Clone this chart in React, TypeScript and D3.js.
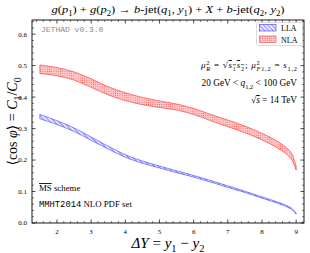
import React from "react";
import * as d3 from "d3";

const dY = [1.5, 2, 2.5, 3, 3.5, 4, 4.5, 5, 5.5, 6, 6.5, 7, 7.5, 8, 8.5, 8.75, 8.9, 9.0];
const nlaHigh = [0.502, 0.494, 0.48, 0.458, 0.433, 0.414, 0.399, 0.388, 0.378, 0.364, 0.345, 0.327, 0.308, 0.285, 0.256, 0.236, 0.214, 0.18];
const nlaLow = [0.475, 0.468, 0.454, 0.431, 0.407, 0.389, 0.376, 0.367, 0.359, 0.345, 0.325, 0.306, 0.287, 0.264, 0.235, 0.215, 0.196, 0.168];
const llaHigh = [0.345, 0.325, 0.302, 0.273, 0.244, 0.217, 0.197, 0.181, 0.166, 0.151, 0.135, 0.118, 0.101, 0.083, 0.065, 0.054, 0.044, 0.032];
const llaLow = [0.331, 0.313, 0.291, 0.263, 0.235, 0.209, 0.19, 0.175, 0.16, 0.146, 0.13, 0.113, 0.097, 0.079, 0.061, 0.05, 0.04, 0.028];
const xTicks = [2, 3, 4, 5, 6, 7, 8, 9];
const yTicks = [0, 0.1, 0.2, 0.3, 0.4, 0.5, 0.6];
const seriesNames = ["LLA", "NLA"];

const W = 310, H = 253;
const L = 32, R = 304, T = 20, B = 223;
const SERIF = "'Liberation Serif', 'DejaVu Serif', serif";
const MONO = "'Liberation Mono', 'DejaVu Sans Mono', monospace";

type Seg = { t: string; it?: boolean; sub?: boolean; sup?: boolean; ov?: boolean; dx?: number; mono?: boolean };

function segs(list: Seg[], fs: number) {
  let cur = 0;
  return list.map((s, i) => {
    const target = s.sub ? fs * 0.28 : s.sup ? -fs * 0.38 : 0;
    const dy = target - cur;
    cur = target;
    return (
      <tspan
        key={i}
        dy={dy || undefined}
        dx={s.dx}
        fontStyle={s.it ? "italic" : "normal"}
        fontSize={s.sub || s.sup ? fs * 0.7 : fs}
        fontFamily={s.mono ? MONO : undefined}
        textDecoration={s.ov ? "overline" : undefined}
      >
        {s.t}
      </tspan>
    );
  });
}

export default function App() {
  const x = d3.scaleLinear().domain([1.27, 9.23]).range([L, R]);
  const y = d3.scaleLinear().domain([0, 0.645]).range([B, T]);
  const idx = d3.range(dY.length);
  const area = (hi: number[], lo: number[]) =>
    d3
      .area<number>()
      .x((i) => x(dY[i]))
      .y0((i) => y(lo[i]))
      .y1((i) => y(hi[i]))
      .curve(d3.curveMonotoneX)(idx) as string;

  const xMinor = d3.range(1.4, 9.21, 0.2).filter((v) => Math.abs(v - Math.round(v)) > 0.01);
  const yMinor = d3.range(0.02, 0.645, 0.02).filter((v) => Math.abs(v * 10 - Math.round(v * 10)) > 0.01);

  const blue = "#3b3bff";
  const red = "#ff4040";

  const title: Seg[] = [
    { t: "g", it: true }, { t: "(" }, { t: "p", it: true }, { t: "1", sub: true }, { t: ") + " },
    { t: "g", it: true }, { t: "(" }, { t: "p", it: true }, { t: "2", sub: true }, { t: ") → " },
    { t: "b", it: true }, { t: "-jet(" }, { t: "q", it: true }, { t: "1", sub: true }, { t: ", " },
    { t: "y", it: true }, { t: "1", sub: true }, { t: ") + " }, { t: "X", it: true }, { t: " + " },
    { t: "b", it: true }, { t: "-jet(" }, { t: "q", it: true }, { t: "2", sub: true }, { t: ", " },
    { t: "y", it: true }, { t: "2", sub: true }, { t: ")" },
  ];

  return (
    <div style={{ position: "absolute", left: 0, top: 0, width: W, height: H, background: "#fff" }}>
      <svg width={W} height={H} viewBox={`0 0 ${W} ${H}`} style={{ display: "block" }}>
        <defs>
          <pattern id="hatchBlue" patternUnits="userSpaceOnUse" width="3" height="3" patternTransform="rotate(-45)">
            <rect width="3" height="3" fill="#ececff" />
            <line x1="0" y1="0" x2="0" y2="3" stroke={blue} strokeWidth="1.1" />
          </pattern>
          <pattern id="dotRed" patternUnits="userSpaceOnUse" width="2.2" height="2.2">
            <rect width="2.2" height="2.2" fill="#ffcaca" />
            <circle cx="1.1" cy="1.1" r="0.5" fill="#ff5a5a" />
          </pattern>
        </defs>
        <rect x={0} y={0} width={W} height={H} fill="#fff" />

        {/* bands */}
        <path d={area(nlaHigh, nlaLow)} fill="url(#dotRed)" stroke={red} strokeWidth={0.7} />
        <path d={area(llaHigh, llaLow)} fill="url(#hatchBlue)" stroke={blue} strokeWidth={0.6} />

        {/* frame */}
        <rect x={L} y={T} width={R - L} height={B - T} fill="none" stroke="#000" strokeWidth={0.9} />

        {/* ticks */}
        {xTicks.map((v) => (
          <g key={"xt" + v}>
            <line x1={x(v)} x2={x(v)} y1={B} y2={B - 3.5} stroke="#000" strokeWidth={0.7} />
            <line x1={x(v)} x2={x(v)} y1={T} y2={T + 3.5} stroke="#000" strokeWidth={0.7} />
            <text x={x(v)} y={B + 11} textAnchor="middle" fontFamily={SERIF} fontSize={7}>{v}</text>
          </g>
        ))}
        {xMinor.map((v, i) => (
          <g key={"xm" + i}>
            <line x1={x(v)} x2={x(v)} y1={B} y2={B - 2} stroke="#000" strokeWidth={0.5} />
            <line x1={x(v)} x2={x(v)} y1={T} y2={T + 2} stroke="#000" strokeWidth={0.5} />
          </g>
        ))}
        {yTicks.map((v) => (
          <g key={"yt" + v}>
            <line x1={L} x2={L + 3.5} y1={y(v)} y2={y(v)} stroke="#000" strokeWidth={0.7} />
            <line x1={R} x2={R - 3.5} y1={y(v)} y2={y(v)} stroke="#000" strokeWidth={0.7} />
            <text x={27} y={y(v) + 2.4} textAnchor="end" fontFamily={SERIF} fontSize={7}>{v.toFixed(1)}</text>
          </g>
        ))}
        {yMinor.map((v, i) => (
          <g key={"ym" + i}>
            <line x1={L} x2={L + 2} y1={y(v)} y2={y(v)} stroke="#000" strokeWidth={0.5} />
            <line x1={R} x2={R - 2} y1={y(v)} y2={y(v)} stroke="#000" strokeWidth={0.5} />
          </g>
        ))}

        {/* title */}
        <text x={168} y={13} textAnchor="middle" fontFamily={SERIF} fontSize={11} textLength={233} lengthAdjust="spacingAndGlyphs">
          {segs(title, 11)}
        </text>

        {/* x label */}
        <text x={168} y={248} textAnchor="middle" fontFamily={SERIF} fontSize={15}>
          {segs([{ t: "ΔY", it: true }, { t: " = " }, { t: "y", it: true }, { t: "1", sub: true }, { t: " − " }, { t: "y", it: true }, { t: "2", sub: true }], 15)}
        </text>

        {/* y label */}
        <text transform={`translate(17,${(T + B) / 2}) rotate(-90)`} textAnchor="middle" fontFamily={SERIF} fontSize={14}>
          {segs([{ t: "⟨cos " }, { t: "φ", it: true }, { t: "⟩ = " }, { t: "C", it: true }, { t: "1", sub: true }, { t: "/" }, { t: "C", it: true }, { t: "0", sub: true }], 14)}
        </text>

        {/* JETHAD */}
        <text x={41} y={32} fontFamily={MONO} fontSize={8} fill="#8a8a8a">JETHAD v0.3.0</text>

        {/* legend */}
        <rect x={256.5} y={22.5} width={46} height={23} rx={1.5} fill="#fff" stroke="#ccc" strokeWidth={0.7} />
        <rect x={259.5} y={24.5} width={16.5} height={6.5} fill="url(#hatchBlue)" stroke={blue} strokeWidth={0.6} />
        <rect x={259.5} y={36} width={16.5} height={6.5} fill="url(#dotRed)" stroke={red} strokeWidth={0.6} />
        <text x={281} y={31} fontFamily={SERIF} fontSize={8}>{seriesNames[0]}</text>
        <text x={281} y={42.5} fontFamily={SERIF} fontSize={8}>{seriesNames[1]}</text>

        {/* annotations */}
        <text x={297} y={68} textAnchor="end" fontFamily={SERIF} fontSize={9} textLength={96} lengthAdjust="spacing">
          {segs([
            { t: "μ", it: true }, { t: "2", sup: true }, { t: "R", sub: true, it: true, dx: -4 },
            { t: " = √" }, { t: "s", it: true, ov: true }, { t: "1", sub: true, ov: true }, { t: "s", it: true, ov: true }, { t: "2", sub: true, ov: true },
            { t: "; " }, { t: "μ", it: true }, { t: "2", sup: true }, { t: "F", sub: true, it: true, dx: -4 }, { t: "1,2", sub: true },
            { t: " = " }, { t: "s", it: true }, { t: "1,2", sub: true },
          ], 9)}
        </text>
        <text x={297} y={86} textAnchor="end" fontFamily={SERIF} fontSize={9.3}>
          {segs([{ t: "20 GeV < " }, { t: "q", it: true }, { t: "1,2", sub: true }, { t: " < 100 GeV" }], 9.3)}
        </text>
        <text x={297} y={103} textAnchor="end" fontFamily={SERIF} fontSize={9.3}>
          {segs([{ t: "√" }, { t: "s", it: true, ov: true }, { t: " = 14 TeV" }], 9.3)}
        </text>

        {/* bottom-left notes */}
        <text x={39} y={191} fontFamily={SERIF} fontSize={8.8}>
          {segs([{ t: "MS", ov: true }, { t: " scheme" }], 8.8)}
        </text>
        <text x={39} y={207} fontFamily={SERIF} fontSize={8.8}>
          {segs([{ t: "MMHT2014", mono: true }, { t: " NLO PDF set" }], 8.8)}
        </text>
      </svg>
    </div>
  );
}
